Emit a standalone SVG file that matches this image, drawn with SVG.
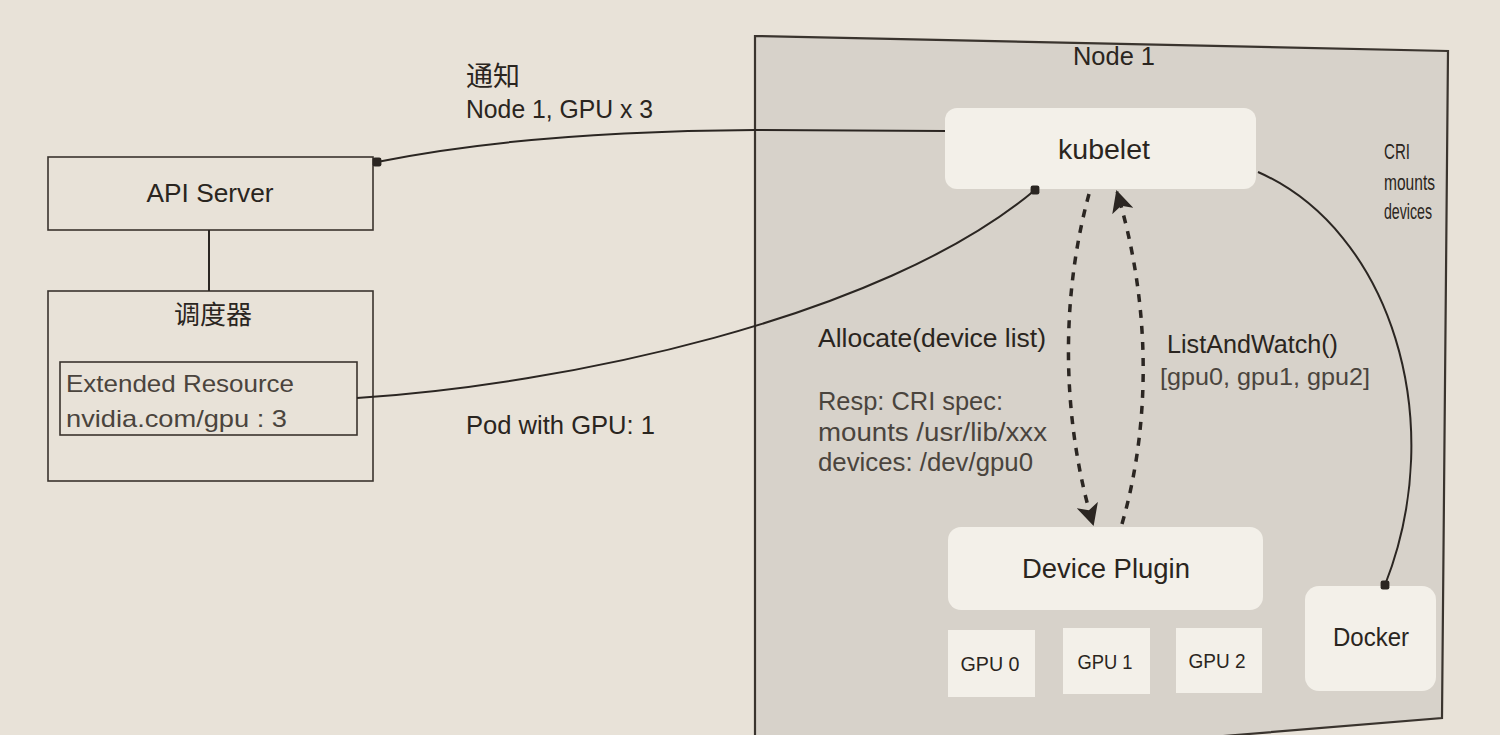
<svg xmlns="http://www.w3.org/2000/svg" width="1500" height="735" viewBox="0 0 1500 735">
<defs>
<style>
.t{font-family:"Liberation Sans","Noto Sans CJK SC",sans-serif;fill:#2a2520}
.lt{fill:#4a443d}
.box{fill:none;stroke:#3a342e;stroke-width:1.6}
.soft{fill:#f3f0e9}
.ln{fill:none;stroke:#2b2622;stroke-width:2}
.dash{fill:none;stroke:#2b2622;stroke-width:3.5;stroke-dasharray:8 8}
</style>
<marker id="dot" viewBox="0 0 10 10" refX="5" refY="5" markerWidth="11" markerHeight="11" markerUnits="userSpaceOnUse">
<rect x="1" y="1" width="8" height="8" rx="2" fill="#2b2622"/>
</marker>
<marker id="arr" viewBox="0 0 10 10" refX="9" refY="5" markerWidth="22" markerHeight="22" markerUnits="userSpaceOnUse" orient="auto">
<path d="M0,0 L10,5 L0,10 L2.5,5 z" fill="#2b2622"/>
</marker>
</defs>
<rect x="0" y="0" width="1500" height="735" fill="#e8e2d8"/>
<g id="node1-panel">
<polygon points="755,36 1448,51 1442,718 1200,738 755,738" fill="#d7d2ca" stroke="#3a342e" stroke-width="2.2"/>
<text class="t" x="1114" y="65" font-size="25" text-anchor="middle" textLength="82" lengthAdjust="spacingAndGlyphs">Node 1</text>
</g>
<g id="api-server">
<rect class="box" x="48" y="157" width="325" height="73"/>
<text class="t" x="210" y="202" font-size="26" text-anchor="middle" textLength="127" lengthAdjust="spacingAndGlyphs">API Server</text>
</g>
<g id="scheduler">
<rect class="box" x="48" y="291" width="325" height="190"/>
<text class="t" x="213" y="324" font-size="26" text-anchor="middle">调度器</text>
</g>
<g id="extended-resource">
<rect class="box" x="60" y="362" width="297" height="73"/>
<text class="t lt" x="66" y="392" font-size="24" textLength="228" lengthAdjust="spacingAndGlyphs">Extended Resource</text>
<text class="t lt" x="66" y="427" font-size="24" textLength="221" lengthAdjust="spacingAndGlyphs">nvidia.com/gpu : 3</text>
</g>
<g id="kubelet">
<rect class="soft" x="945" y="108" width="311" height="81" rx="12"/>
<text class="t" x="1104" y="159" font-size="27" text-anchor="middle" textLength="92" lengthAdjust="spacingAndGlyphs">kubelet</text>
</g>
<g id="device-plugin">
<rect class="soft" x="948" y="527" width="315" height="83" rx="13"/>
<text class="t" x="1106" y="578" font-size="27" text-anchor="middle" textLength="168" lengthAdjust="spacingAndGlyphs">Device Plugin</text>
</g>
<g id="gpu0">
<rect class="soft" x="948" y="630" width="87" height="67"/>
<text class="t" x="990" y="671" font-size="21" text-anchor="middle" textLength="59" lengthAdjust="spacingAndGlyphs">GPU 0</text>
</g>
<g id="gpu1">
<rect class="soft" x="1063" y="628" width="87" height="66"/>
<text class="t" x="1105" y="669" font-size="21" text-anchor="middle" textLength="55" lengthAdjust="spacingAndGlyphs">GPU 1</text>
</g>
<g id="gpu2">
<rect class="soft" x="1176" y="628" width="86" height="65"/>
<text class="t" x="1217" y="668" font-size="21" text-anchor="middle" textLength="57" lengthAdjust="spacingAndGlyphs">GPU 2</text>
</g>
<g id="docker">
<rect class="soft" x="1305" y="586" width="131" height="105" rx="14"/>
<text class="t" x="1371" y="646" font-size="25" text-anchor="middle" textLength="76" lengthAdjust="spacingAndGlyphs">Docker</text>
</g>
<g id="connectors">
<line class="ln" x1="209" y1="230" x2="209" y2="291" stroke-width="1.5"/>
<path class="ln" d="M945,131 L755,130 C600,131 470,143 377,162" marker-end="url(#dot)"/>
<path class="ln" d="M357,398 C560,385 880,320 1035,190" marker-end="url(#dot)"/>
<path class="ln" d="M1258,172 C1390,230 1450,420 1385,585" stroke-width="1.6" marker-end="url(#dot)"/>
<path class="dash" d="M1089,194 C1060,300 1062,420 1093,524" marker-end="url(#arr)"/>
<path class="dash" d="M1122,524 C1152,420 1150,300 1117,192" marker-end="url(#arr)"/>
</g>
<g id="labels">
<text class="t" x="466" y="86" font-size="27">通知</text>
<text class="t" x="466" y="118" font-size="25" textLength="187" lengthAdjust="spacingAndGlyphs">Node 1, GPU x 3</text>
<text class="t" x="466" y="434" font-size="25" textLength="189" lengthAdjust="spacingAndGlyphs">Pod with GPU: 1</text>
<text class="t" x="818" y="347" font-size="25" textLength="228" lengthAdjust="spacingAndGlyphs">Allocate(device list)</text>
<text class="t lt" x="818" y="410" font-size="25" textLength="185" lengthAdjust="spacingAndGlyphs">Resp: CRI spec:</text>
<text class="t lt" x="818" y="441" font-size="25" textLength="229" lengthAdjust="spacingAndGlyphs">mounts /usr/lib/xxx</text>
<text class="t lt" x="818" y="471" font-size="25" textLength="215" lengthAdjust="spacingAndGlyphs">devices: /dev/gpu0</text>
<text class="t" x="1167" y="353" font-size="25" textLength="171" lengthAdjust="spacingAndGlyphs">ListAndWatch()</text>
<text class="t lt" x="1160" y="385" font-size="24" textLength="210" lengthAdjust="spacingAndGlyphs">[gpu0, gpu1, gpu2]</text>
<text class="t" x="1384" y="159" font-size="22" textLength="26" lengthAdjust="spacingAndGlyphs">CRI</text>
<text class="t" x="1384" y="190" font-size="22" textLength="51" lengthAdjust="spacingAndGlyphs">mounts</text>
<text class="t" x="1384" y="219" font-size="22" textLength="48" lengthAdjust="spacingAndGlyphs">devices</text>
</g>
</svg>
